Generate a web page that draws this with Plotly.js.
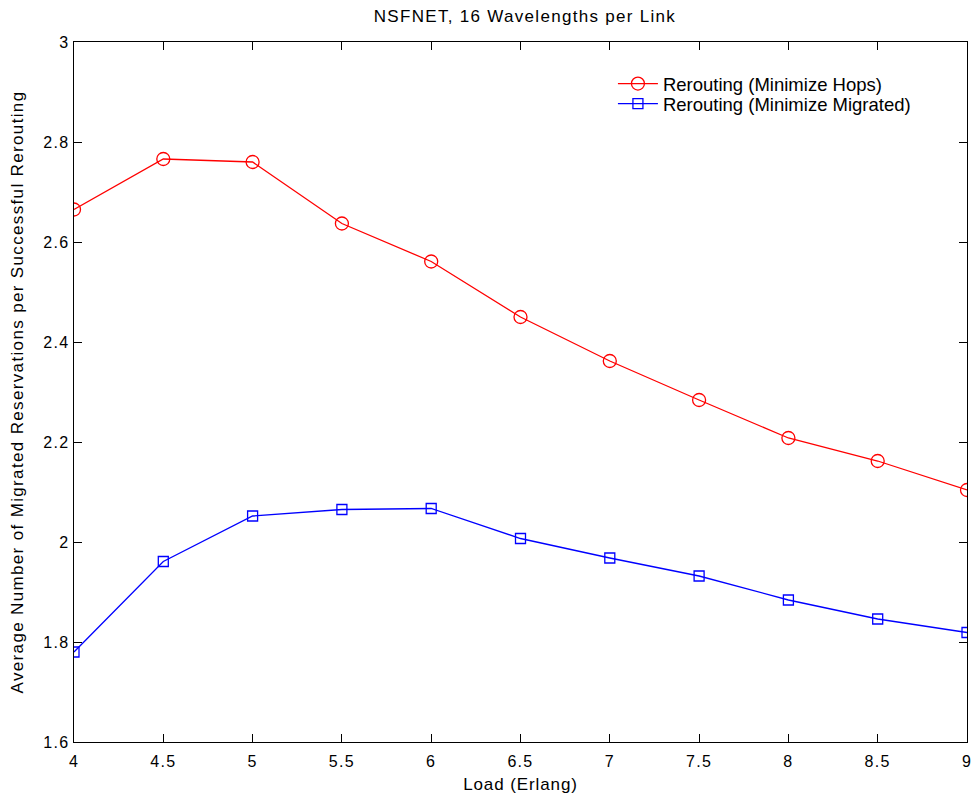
<!DOCTYPE html>
<html>
<head>
<meta charset="utf-8">
<script src="https://cdn.plot.ly/plotly-3.0.1.min.js"></script>
<style>
body{margin:0;padding:0;background:#fff}
#chart{width:971px;height:798px}
.gtitle{letter-spacing:1.3px}
.ytitle{letter-spacing:1.35px}
.xtitle{letter-spacing:0.9px}
.xtick text,.ytick text{letter-spacing:1.3px}
</style>
</head>
<body>
<div id="chart"></div>
<script>
const loads = [4, 4.5, 5, 5.5, 6, 6.5, 7, 7.5, 8, 8.5, 9];
const minHops = [2.665, 2.766, 2.760, 2.637, 2.561, 2.450, 2.362, 2.284, 2.208, 2.162, 2.104];
const minMigrated = [1.780, 1.961, 2.052, 2.065, 2.067, 2.007, 1.968, 1.932, 1.884, 1.846, 1.819];
const xTicks = [4, 4.5, 5, 5.5, 6, 6.5, 7, 7.5, 8, 8.5, 9];
const yTicks = [1.6, 1.8, 2, 2.2, 2.4, 2.6, 2.8, 3];

const font = "Liberation Sans, Arial, sans-serif";
const traces = [
  {x: loads, y: minHops, name: "Rerouting (Minimize Hops)", mode: "lines+markers", legend: "legend",
   line: {color: "#ff0000", width: 1.3},
   marker: {symbol: "circle-open", size: 13, color: "#ff0000", line: {width: 1.3}}},
  {x: loads, y: minMigrated, name: "Rerouting (Minimize Migrated)", mode: "lines+markers", legend: "legend2",
   line: {color: "#0000ff", width: 1.3},
   marker: {symbol: "square-open", size: 10, color: "#0000ff", line: {width: 1.3}}}
];
const axisCommon = {
  showgrid: false, zeroline: false, showline: true, mirror: "ticks",
  linecolor: "#000", linewidth: 1.3, ticks: "inside", ticklen: 8, tickcolor: "#000",
  ticklabeloverflow: "allow",
  tickfont: {family: font, size: 16, color: "#000"}
};
const legendCommon = {xanchor: "left", yanchor: "middle", bgcolor: "rgba(255,255,255,0)",
  font: {family: font, size: 18.5, color: "#000"}, tracegroupgap: 0, itemwidth: 40};
const layout = {
  width: 971, height: 798,
  margin: {l: 74, r: 4, t: 42, b: 56},
  paper_bgcolor: "#fff", plot_bgcolor: "#fff",
  font: {family: font, color: "#000"},
  title: {text: "NSFNET, 16 Wavelengths per Link", font: {family: font, size: 17, color: "#000"},
          xref: "paper", x: 0.505, xanchor: "center", y: 0.98, yanchor: "middle"},
  xaxis: Object.assign({}, axisCommon, {range: [4, 9], tickvals: xTicks, ticktext: xTicks.map(String),
          ticklabelstandoff: 4,
          title: {text: "Load (Erlang)", font: {family: font, size: 17}, standoff: 9}}),
  yaxis: Object.assign({}, axisCommon, {range: [1.6, 3], tickvals: yTicks, ticktext: yTicks.map(String),
          title: {text: "Average Number of Migrated Reservations per Successful Rerouting", font: {family: font, size: 17}, standoff: 15}}),
  legend: Object.assign({}, legendCommon, {x: 0.6035, y: 0.94}),
  legend2: Object.assign({}, legendCommon, {x: 0.6035, y: 0.9114}),
  showlegend: true
};
Plotly.newPlot("chart", traces, layout, {displayModeBar: false, staticPlot: true});
</script>
</body>
</html>
